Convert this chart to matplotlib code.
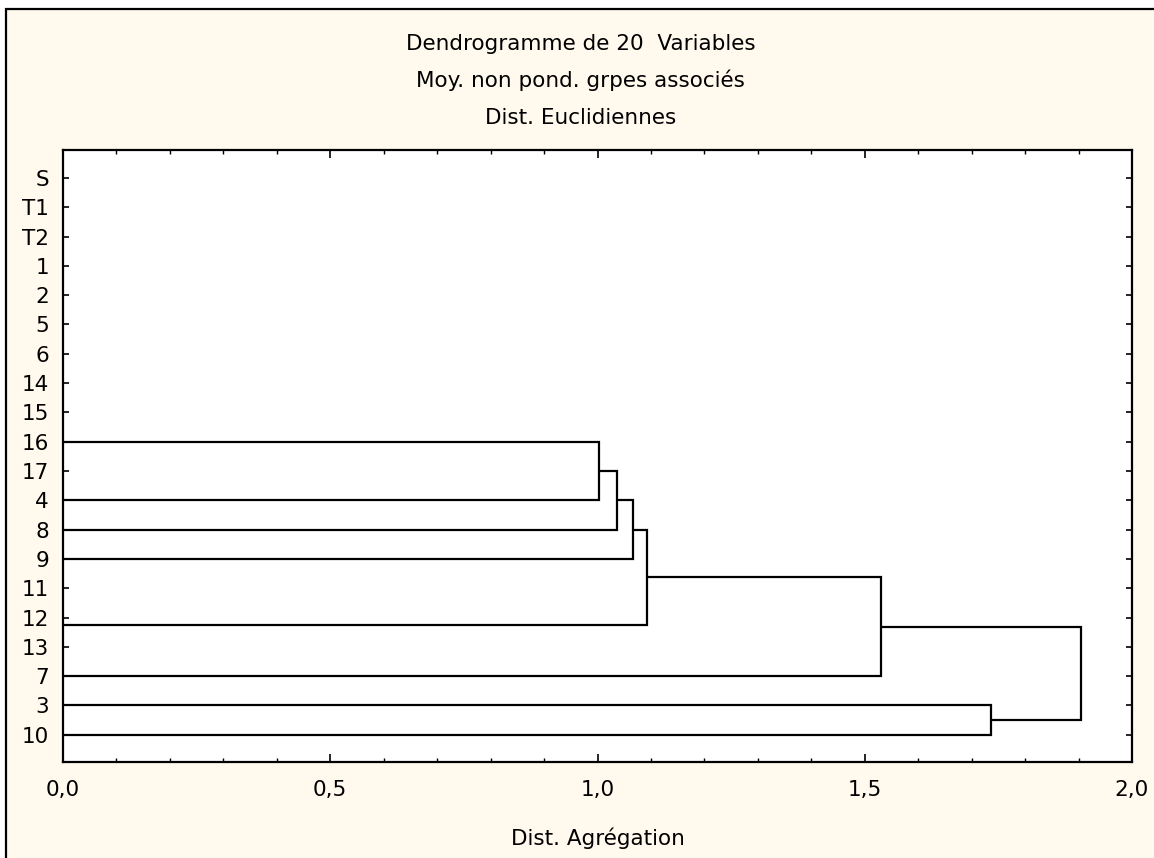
import matplotlib.pyplot as plt
from matplotlib.patches import Rectangle
from matplotlib.ticker import MultipleLocator, FuncFormatter

labels = ["S", "T1", "T2", "1", "2", "5", "6", "14", "15", "16",
          "17", "4", "8", "9", "11", "12", "13", "7", "3", "10"]
# merges: strings are leaves, ints point to an earlier merge
merge_left = ["11", 0, "16", 2, 3, 4, 5, "3", 6]
merge_right = ["12", "13", "4", "8", "9", 1, "7", "10", 7]
merge_height = [0.0, 0.0, 1.003, 1.037, 1.067, 1.092, 1.530, 1.737, 1.904]

title_lines = ["Dendrogramme de 20  Variables",
               "Moy. non pond. grpes associés",
               "Dist. Euclidiennes"]
xlabel = "Dist. Agrégation"

plt.rcParams["font.family"] = "DejaVu Sans"
plt.rcParams["font.size"] = 15.5

fig = plt.figure(figsize=(11.54, 8.58), dpi=100, facecolor="white")
fig.patches.append(Rectangle((6 / 1154, -0.05), 1.2, 1.05 - 9 / 858,
                             transform=fig.transFigure, facecolor="#fff9ee",
                             edgecolor="black", linewidth=1.6, zorder=-10))

ax = fig.add_axes([63 / 1154, 1 - 762 / 858, (1132 - 63) / 1154, (762 - 149.5) / 858])
ax.set_facecolor("white")

pos = {lab: i for i, lab in enumerate(labels)}
nodes = []


def node(k):
    if isinstance(k, str):
        return pos[k], 0.0
    return nodes[k]


for l, r, h in zip(merge_left, merge_right, merge_height):
    yl, hl = node(l)
    yr, hr = node(r)
    if h > 0:
        ax.plot([hl, h, h, hr], [yl, yl, yr, yr], color="black", lw=1.6,
                solid_joinstyle="miter", solid_capstyle="butt")
    nodes.append(((yl + yr) / 2, h))

ax.set_xlim(0, 2)
ax.set_ylim(19.93, -0.97)
ax.set_yticks(range(len(labels)))
ax.set_yticklabels(labels)
ax.xaxis.set_major_locator(MultipleLocator(0.5))
ax.xaxis.set_minor_locator(MultipleLocator(0.1))
ax.xaxis.set_major_formatter(FuncFormatter(lambda v, p: f"{v:.1f}".replace(".", ",")))
ax.tick_params(axis="x", which="major", direction="in", length=6, width=1.2,
               top=True, pad=13)
ax.tick_params(axis="x", which="minor", direction="in", length=3, width=1,
               top=True)
ax.tick_params(axis="y", direction="in", length=4, width=1.2, right=True, pad=10)
for s in ax.spines.values():
    s.set_linewidth(1.6)

ys = [50, 87, 124]
for t, yy in zip(title_lines, ys):
    fig.text(0.503, 1 - yy / 858, t, ha="center", va="baseline")
fig.text((63 + 1132) / 2 / 1154, 1 - 845 / 858, xlabel, ha="center", va="baseline")

fig.savefig("out.png", dpi=100, facecolor=fig.get_facecolor())
